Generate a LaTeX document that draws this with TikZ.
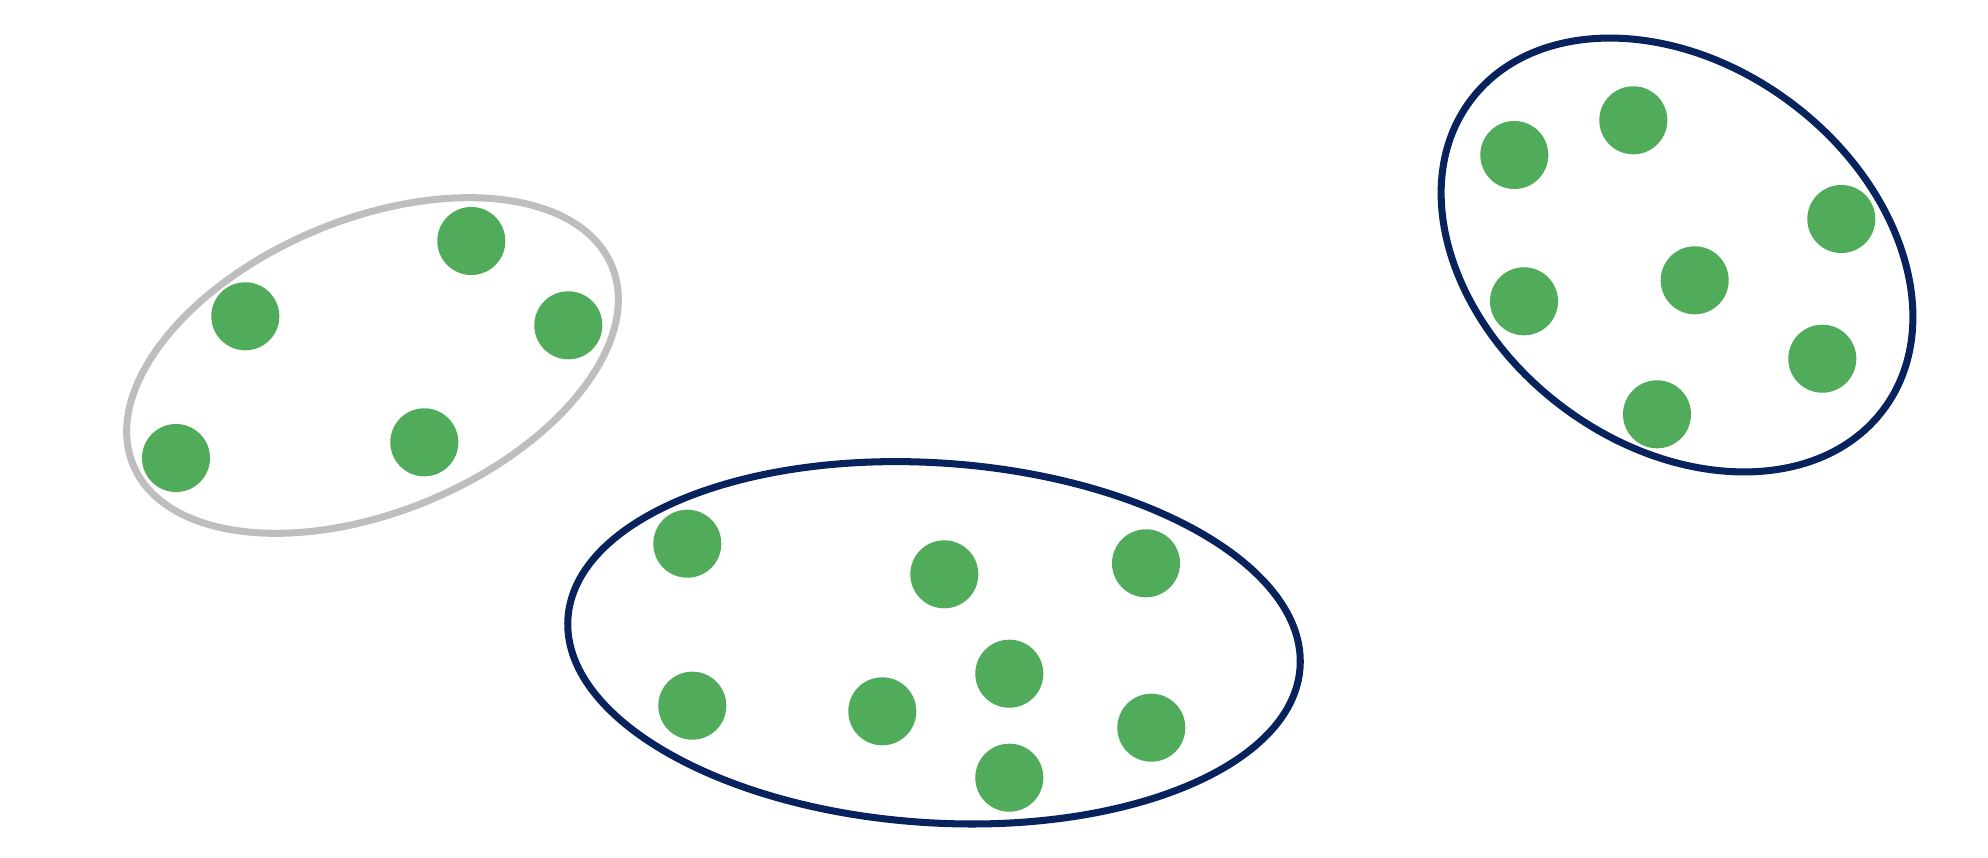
\documentclass[tikz,border=0pt]{standalone}
\usepackage{tikz}
\definecolor{dotgreen}{RGB}{80,172,91}
\definecolor{ringnavy}{RGB}{8,34,94}
\definecolor{ringgray}{RGB}{190,190,190}

\begin{document}
\begin{tikzpicture}[x=0.01cm,y=-0.01cm]
    \tikzset{vertex/.style = {shape=circle,fill=dotgreen,draw=none,inner sep=0pt,minimum size=0.68cm}}
    \tikzset{ring/.style = {line width=2pt,draw=ringnavy}}
    \tikzset{ring2/.style = {line width=2pt,draw=ringgray}}

    \useasboundingbox (0,0) rectangle (1988,858);

    % clusters

    \draw[ring2,rotate around={22.6:(372.5,365.5)}] (372.5,365.5) ellipse (259.2 and 146.3);
    \draw[ring,rotate around={-3.85:(934,642.8)}] (934,642.8) ellipse (366.9 and 179.9);
    \draw[ring,rotate around={-36.8:(1677,255)}] (1677,255) ellipse (257.9 and 190.2);

    % vertices

    \node[vertex] (a1) at (471.3,241) {};
    \node[vertex] (a2) at (245.3,316.3) {};
    \node[vertex] (a3) at (568.3,325.3) {};
    \node[vertex] (a4) at (176,458) {};
    \node[vertex] (a5) at (424.3,442.3) {};

    \node[vertex] (b1) at (687.3,543.7) {};
    \node[vertex] (b2) at (944.3,574.3) {};
    \node[vertex] (b3) at (1146,563.3) {};
    \node[vertex] (b4) at (692.3,705.7) {};
    \node[vertex] (b5) at (882.3,711.3) {};
    \node[vertex] (b6) at (1009.3,673.7) {};
    \node[vertex] (b7) at (1151.3,727.7) {};
    \node[vertex] (b8) at (1009.3,777.7) {};

\node[vertex] (c1) at (1514.3,155) {};
\node[vertex] (c2) at (1633.3,120.3) {};
\node[vertex] (c3) at (1841.3,219) {};
\node[vertex] (c4) at (1524,301.3) {};
\node[vertex] (c5) at (1694.7,280.3) {};
\node[vertex] (c6) at (1822.3,358.7) {};
\node[vertex] (c7) at (1657,414.3) {};
      \end{tikzpicture}
\end{document}
